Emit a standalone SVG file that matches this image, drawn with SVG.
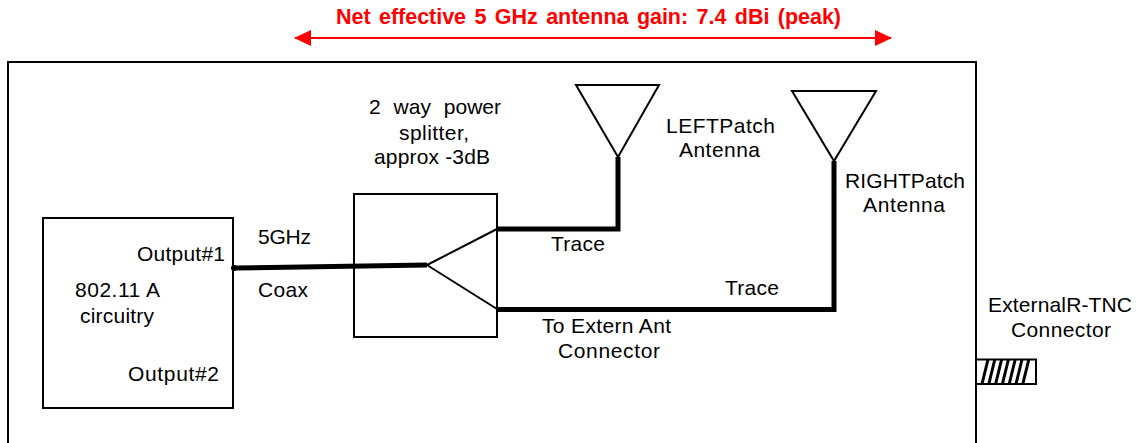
<svg xmlns="http://www.w3.org/2000/svg" width="1136" height="443" viewBox="0 0 1136 443">
<style>
text{font-family:"Liberation Sans",Arial,sans-serif;font-size:21px;fill:#000}
.box{fill:none;stroke:#000;stroke-width:2}
.thin{fill:none;stroke:#000;stroke-width:2}
.thick{fill:none;stroke:#000;stroke-width:5;stroke-linejoin:miter}
.title{fill:#f00;font-weight:bold;font-size:21.500px;word-spacing:2.500px}
</style>
<defs>
<marker id="a" viewBox="0 0 17 16" refX="16" refY="8" markerWidth="17" markerHeight="16" markerUnits="userSpaceOnUse" orient="auto-start-reverse"><path d="M0 0L17 8L0 16Z" fill="#f00"/></marker>
</defs>
<rect width="1136" height="443" fill="#fff"/>
<g id="enclosure"><path class="box" d="M8 443V62H976V443"/></g>
<g id="gain-label"><text class="title" x="336" y="24" textLength="505">Net effective 5 GHz antenna gain: 7.4 dBi (peak)</text></g>
<g id="circuitry"><rect class="box" x="43" y="218" width="190" height="190"/>
<text x="137" y="261" textLength="88">Output#1</text><text x="75" y="297" textLength="85">802.11 A</text><text x="80" y="323" textLength="74">circuitry</text><text x="128" y="381" textLength="91">Output#2</text></g>
<g id="splitter"><rect class="box" x="354" y="194" width="143" height="143"/>
<path class="thin" d="M427 265L497 229M427 265L497 309"/>
<text x="369" y="114" textLength="132" style="word-spacing:7px">2 way power</text><text x="399" y="140" textLength="70">splitter,</text><text x="374" y="164" textLength="116">approx -3dB</text></g>
<g id="left-antenna"><path class="thin" d="M576 85H659L618 157Z"/><text x="666" y="133" textLength="109">LEFTPatch</text><text x="679" y="157" textLength="81">Antenna</text></g>
<g id="right-antenna"><path class="thin" d="M792 91H876L834 161Z"/><text x="845" y="188" textLength="120">RIGHTPatch</text><text x="863" y="212" textLength="82">Antenna</text></g>
<g id="connector"><path class="thin" d="M976 359.500H1036V384H976Z"/>
<path d="M982 384L988 359.500M988.800 384L994.800 359.500M995.600 384L1001.600 359.500M1002.400 384L1008.400 359.500M1009.200 384L1015.200 359.500M1016 384L1022 359.500M1022.800 384L1028.800 359.500" stroke="#000" stroke-width="3" fill="none"/>
<text x="988" y="312" textLength="144">ExternalR-TNC</text><text x="1011" y="337" textLength="100">Connector</text></g>
<g id="connectors">
<path class="thick" d="M234 268L427 265"/><circle cx="234" cy="268" r="3"/>
<path class="thick" d="M497 229H618V157"/>
<path class="thick" d="M497 309.500H834V161"/>
<path d="M295 38H891" stroke="#f00" stroke-width="2" fill="none" marker-start="url(#a)" marker-end="url(#a)"/>
</g>
<g id="labels"><text x="258" y="244" textLength="53">5GHz</text><text x="258" y="297" textLength="50">Coax</text><text x="551" y="251" textLength="54">Trace</text><text x="725" y="295" textLength="54">Trace</text><text x="542" y="333" textLength="129">To Extern Ant</text><text x="558" y="358" textLength="102">Connector</text></g>
</svg>
